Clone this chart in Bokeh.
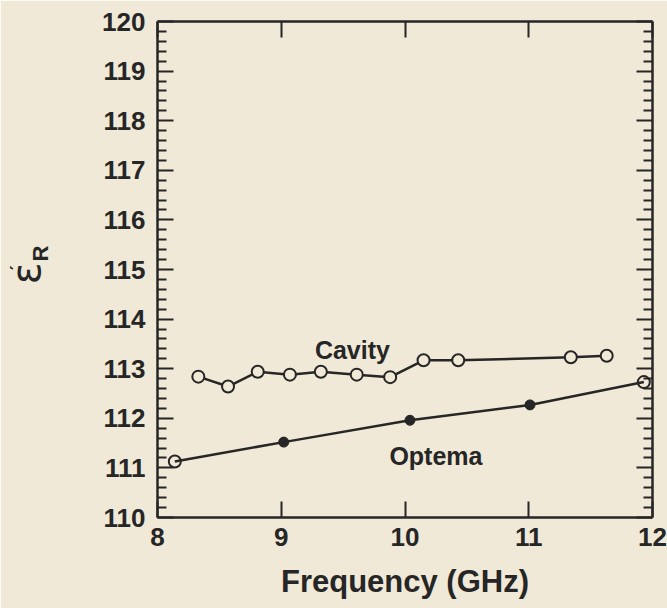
import numpy as np
from bokeh.plotting import figure
from bokeh.models import Range1d, LinearAxis, FixedTicker, Label
from bokeh.embed import file_html
from bokeh.resources import INLINE

# Measured permittivity vs frequency
cavity_freq = [8.33, 8.57, 8.81, 9.07, 9.32, 9.61, 9.88, 10.15, 10.43, 11.34, 11.63]
cavity_eps = [112.84, 112.64, 112.94, 112.88, 112.94, 112.88, 112.83, 113.17, 113.17, 113.23, 113.26]

optema_freq = [8.14, 9.02, 10.04, 11.01, 11.93]
optema_eps = [111.13, 111.52, 111.96, 112.27, 112.73]
optema_open = [True, False, False, False, True]

x_ticks = [8, 9, 10, 11, 12]
y_ticks = list(range(110, 121))

BG = "#f0e9d7"
INK = "#262626"
FONT = "Liberation Sans"

p = figure(width=667, height=608, x_range=Range1d(8, 12), y_range=Range1d(110, 120),
           output_backend="svg", toolbar_location=None,
           min_border_left=157, min_border_right=15, min_border_top=21, min_border_bottom=91)
p.background_fill_color = BG
p.border_fill_color = BG
p.outline_line_color = None
p.grid.visible = False

y_minor = [round(v, 1) for v in np.arange(110, 120.01, 0.2) if abs(v - round(v)) > 1e-6]
xt = FixedTicker(ticks=x_ticks, minor_ticks=[])
yt = FixedTicker(ticks=y_ticks, minor_ticks=y_minor)


def style(ax, labels):
    ax.axis_line_color = INK
    ax.axis_line_width = 2.5
    ax.major_tick_line_color = INK
    ax.major_tick_line_width = 2
    ax.minor_tick_line_color = INK
    ax.minor_tick_line_width = 2
    ax.major_tick_in = 16
    ax.major_tick_out = 0
    ax.minor_tick_in = 9
    ax.minor_tick_out = 0
    if labels:
        ax.major_label_text_font = FONT
        ax.major_label_text_font_style = "bold"
        ax.major_label_text_font_size = "26px"
        ax.major_label_text_color = INK
    else:
        ax.major_label_text_color = None


p.xaxis.ticker = xt
p.yaxis.ticker = yt
style(p.xaxis[0], True)
style(p.yaxis[0], True)
p.xaxis.major_label_standoff = 10
p.yaxis.major_label_standoff = 12
p.xaxis.axis_label = "Frequency (GHz)"
p.xaxis.axis_label_text_font = FONT
p.xaxis.axis_label_text_font_style = "bold"
p.xaxis.axis_label_text_font_size = "31px"
p.xaxis.axis_label_text_color = INK
p.xaxis.axis_label_standoff = 15

top = LinearAxis(ticker=xt)
style(top, False)
p.add_layout(top, "above")
right = LinearAxis(ticker=yt)
style(right, False)
p.add_layout(right, "right")

# Cavity series: open circles joined by a line
p.line(cavity_freq, cavity_eps, line_color=INK, line_width=2.5)
p.scatter(cavity_freq, cavity_eps, size=12, fill_color=BG, line_color=INK, line_width=2)

# Optema series: open circles at the ends, filled dots in between
of_open = [f for f, o in zip(optema_freq, optema_open) if o]
oe_open = [e for e, o in zip(optema_eps, optema_open) if o]
of_fill = [f for f, o in zip(optema_freq, optema_open) if not o]
oe_fill = [e for e, o in zip(optema_eps, optema_open) if not o]
p.scatter(of_open, oe_open, size=12, fill_color=BG, line_color=INK, line_width=2)
p.line(optema_freq, optema_eps, line_color=INK, line_width=2.5)
p.scatter(of_fill, oe_fill, size=10, fill_color=INK, line_color=INK)

lab = dict(text_font=FONT, text_font_style="bold", text_font_size="25px", text_color=INK,
           text_baseline="alphabetic", text_align="center")
p.add_layout(Label(x=9.575, y=113.37, text="Cavity", **lab))
p.add_layout(Label(x=10.25, y=111.25, text="Optema", **lab))

# y-axis symbol: epsilon, prime and subscript R, kept in the left margin panel
rot = dict(angle=np.pi / 2, text_align="center", text_baseline="middle", text_color=INK)
p.add_layout(Label(x=6.935, y=114.92, text="ε", text_font="DejaVu Sans",
                   text_font_size="40px", **rot), "left")
p.add_layout(Label(x=7.057, y=115.32, text="R", text_font=FONT, text_font_style="bold",
                   text_font_size="22px", **rot), "left")
p.add_layout(Label(x=6.862, y=115.04, text="′", text_font="DejaVu Sans",
                   text_font_style="bold", text_font_size="18px", **rot), "left")

open("out.html", "w").write(file_html(p, INLINE))
